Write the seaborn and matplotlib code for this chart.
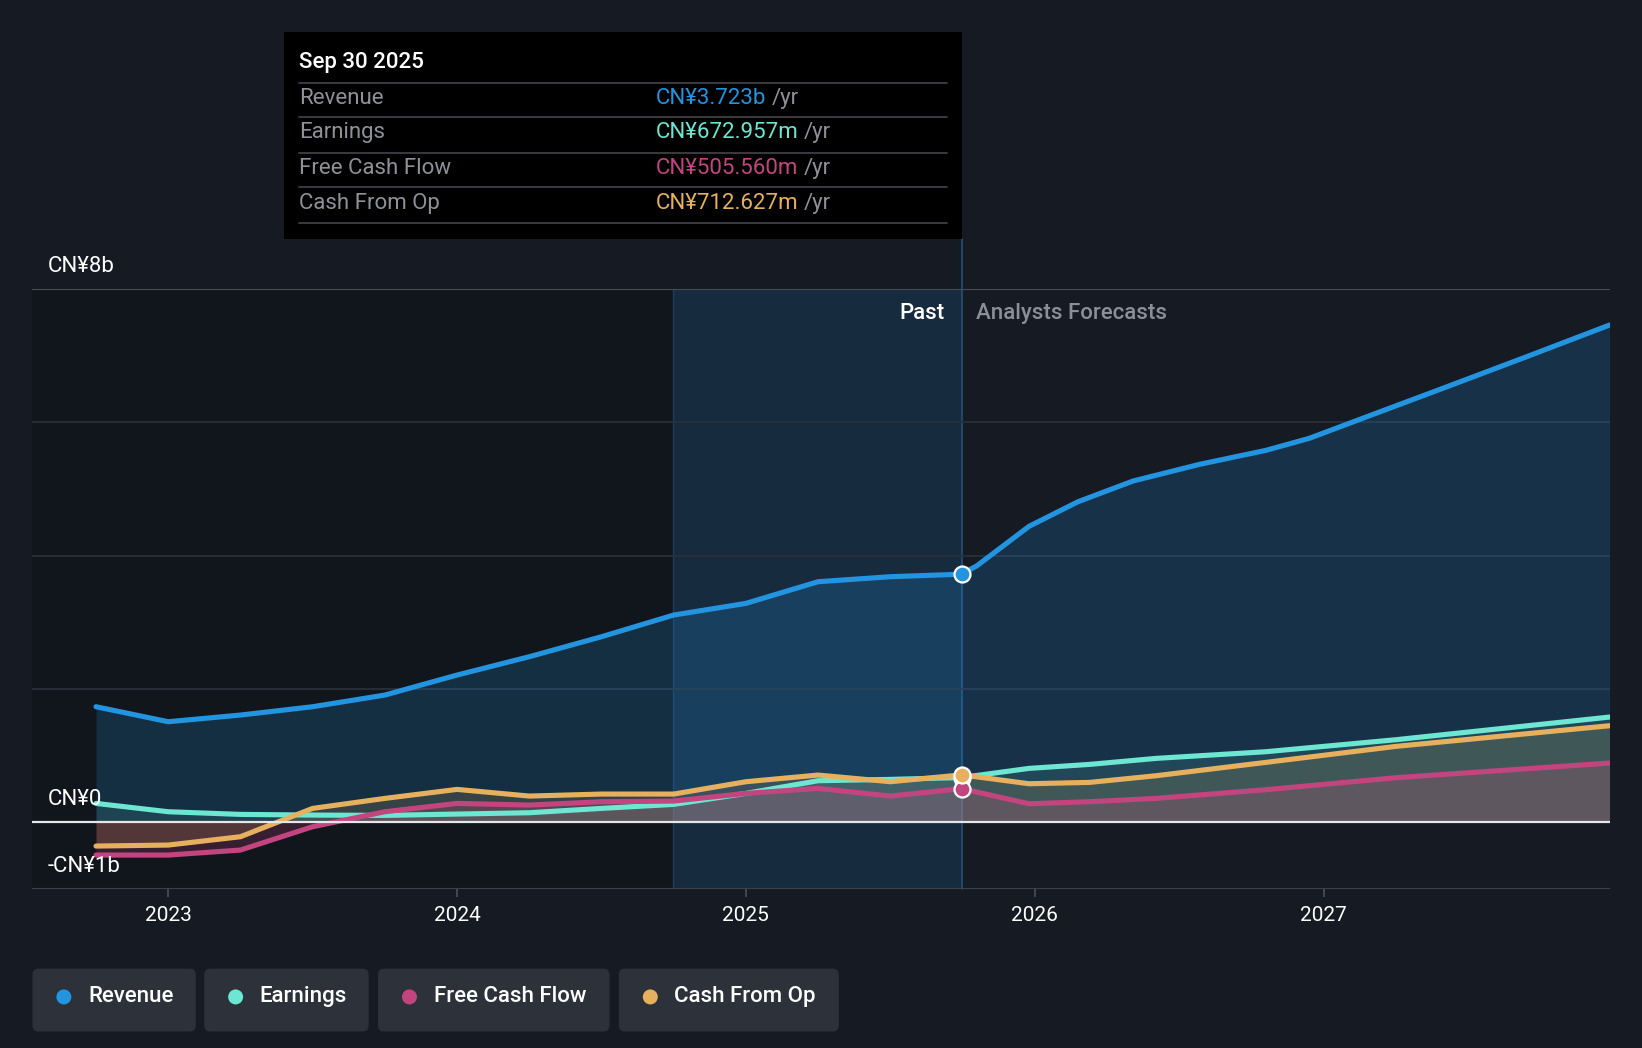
import numpy as np
import pandas as pd
import matplotlib
matplotlib.use("Agg")
import matplotlib.pyplot as plt
import seaborn as sns
from matplotlib.patches import FancyBboxPatch, Rectangle, Circle
from matplotlib.lines import Line2D

# ---- data (CN¥ billions) ----
past_x = [2022.75, 2023.0, 2023.25, 2023.5, 2023.75, 2024.0, 2024.25,
          2024.5, 2024.75, 2025.0, 2025.25, 2025.5, 2025.747]
revenue_past = [1.735, 1.51, 1.61, 1.735, 1.91, 2.21, 2.485, 2.785, 3.11, 3.285, 3.61, 3.685, 3.723]
earnings_past = [0.285, 0.16, 0.12, 0.11, 0.105, 0.125, 0.145, 0.21, 0.27, 0.435, 0.625, 0.645, 0.673]
fcf_past = [-0.49, -0.49, -0.415, -0.065, 0.16, 0.285, 0.26, 0.31, 0.32, 0.435, 0.51, 0.395, 0.506]
cfo_past = [-0.355, -0.34, -0.215, 0.21, 0.36, 0.495, 0.395, 0.425, 0.425, 0.61, 0.71, 0.61, 0.713]

rev_fc_x = [2025.80, 2025.98, 2026.15, 2026.34, 2026.57, 2026.80, 2026.95,
            2027.19, 2027.40, 2027.70, 2027.99]
revenue_fc = [3.85, 4.44, 4.81, 5.12, 5.37, 5.58, 5.76, 6.15, 6.49, 6.98, 7.46]

other_fc_x = [2025.98, 2026.19, 2026.42, 2026.80, 2027.25, 2027.99]
earnings_fc = [0.81, 0.87, 0.96, 1.06, 1.24, 1.58]
fcf_fc = [0.28, 0.31, 0.36, 0.49, 0.67, 0.89]
cfo_fc = [0.58, 0.60, 0.70, 0.90, 1.14, 1.45]

names = ["Revenue", "Earnings", "Free Cash Flow", "Cash From Op"]
colors = ["#2394df", "#6de6d2", "#c2457f", "#e6b05e"]
tip_values = ["CN¥3.723b", "CN¥672.957m", "CN¥505.560m", "CN¥712.627m"]
year_ticks = [2023, 2024, 2025, 2026, 2027]
y_ticks = [8, 0, -1]
y_tick_labels = ["CN¥8b", "CN¥0", "-CN¥1b"]
past_end = 2025.747
band_start = 2024.746

series = {
    "Revenue": (past_x + rev_fc_x, revenue_past + revenue_fc),
    "Earnings": (past_x + other_fc_x, earnings_past + earnings_fc),
    "Free Cash Flow": (past_x + other_fc_x, fcf_past + fcf_fc),
    "Cash From Op": (past_x + other_fc_x, cfo_past + cfo_fc),
}

BG = "#151a23"
sns.set_theme(style="dark")
plt.rcParams["font.family"] = ["Roboto", "DejaVu Sans"]
FS = 16

W, H = 16.42, 10.48
fig = plt.figure(figsize=(W, H), dpi=100, facecolor=BG)
S = 1642 / 1568  # reference layout was measured on a 1568 wide view


def fx(x):
    return x * S / 1642


def fy(y):
    return 1 - y * S / 1048


ax = fig.add_axes([fx(31), fy(849), fx(1537) - fx(31), fy(276) - fy(849)])
ax.set_facecolor(BG)
ax.set_xlim(2022.53, 2027.99)
ax.set_ylim(-1, 8)

# background bands
ax.axvspan(2022.53, band_start, color="#0b0e13", alpha=0.4, lw=0, zorder=0)
ax.axvspan(band_start, past_end, color="#1f6aa6", alpha=0.22, lw=0, zorder=0)
ax.axvline(band_start, color="#1f3d58", lw=1, zorder=1)
ax.axvline(past_end, ymin=0, ymax=(849 - 228) / (849 - 276), color="#24507a",
           lw=1.2, zorder=1, clip_on=False)

# grid
for g in [2, 4, 6]:
    ax.axhline(g, color="#2a3039", lw=1.3, zorder=1)
ax.axhline(8, color="#474d56", lw=1.5, zorder=1)
ax.axhline(-1, color="#3b414a", lw=1.5, zorder=1)

# fills then lines
fill_alpha = [0.2, 0.12, 0.22, 0.16]
for name, c, a in zip(names, colors, fill_alpha):
    xs, ys = series[name]
    ax.fill_between(xs, ys, 0, color=c, alpha=a, lw=0, zorder=2)

for name in names:
    xs, ys = series[name]
    df = pd.DataFrame({"x": xs, "y": ys})
    sns.lineplot(data=df, x="x", y="y", ax=ax, color=colors[names.index(name)],
                 lw=3.7, sort=False, solid_capstyle="round", solid_joinstyle="round",
                 zorder=4)

ax.axhline(0, color="#e6e6e6", lw=1.6, zorder=5)

# markers at Sep 30 2025
for name, val in [("Revenue", revenue_past[-1]), ("Earnings", earnings_past[-1]),
                  ("Free Cash Flow", fcf_past[-1]), ("Cash From Op", cfo_past[-1])]:
    ax.plot([past_end], [val], "o", ms=11.5, mfc=colors[names.index(name)],
            mec="white", mew=1.6, zorder=6)

# axes cosmetics
sns.despine(ax=ax, left=True, bottom=True, right=True, top=True)
ax.grid(False)
ax.set_xlabel("")
ax.set_ylabel("")
ax.set_yticks([])
ax.set_xticks(year_ticks)
ax.set_xticklabels([str(y) for y in year_ticks])
ax.tick_params(axis="x", colors="#4a5058", length=6, width=1.2, pad=6,
               labelcolor="white", labelsize=15, direction="out", bottom=True)

for v, lab in zip(y_ticks, y_tick_labels):
    ax.annotate(lab, xy=(0.0099, v), xycoords=("axes fraction", "data"),
                xytext=(0, 16.5), textcoords="offset points", ha="left", va="center",
                color="white", fontsize=FS, zorder=7)

ax.annotate("Past", xy=(past_end, 1), xycoords=("data", "axes fraction"),
            xytext=(-12.5, -17.5), textcoords="offset points", ha="right", va="center",
            color="white", fontsize=FS, fontweight="medium")
ax.annotate("Analysts Forecasts", xy=(past_end, 1), xycoords=("data", "axes fraction"),
            xytext=(10.5, -17.5), textcoords="offset points", ha="left", va="center",
            color="#8b9098", fontsize=FS, fontweight="medium")

# tooltip
fig.patches.append(Rectangle((fx(271), fy(228)), fx(919) - fx(271), fy(31) - fy(228),
                             transform=fig.transFigure, facecolor="black", edgecolor="none",
                             zorder=8))
fig.text(fx(286), fy(60), "Sep 30 2025", color="white", fontsize=FS,
         fontweight="medium", va="center", ha="left", zorder=9)
for yy in [79, 112, 146, 179, 213]:
    fig.add_artist(Line2D([fx(286), fx(904)], [fy(yy), fy(yy)], color="#3d4045",
                          lw=1.3, transform=fig.transFigure, zorder=9))
renderer = fig.canvas.get_renderer()
for yy, name, c, val in zip([94, 127, 161, 194], names, colors, tip_values):
    fig.text(fx(286), fy(yy), name, color="#8e9298", fontsize=FS, va="center",
             ha="left", zorder=9)
    t = fig.text(fx(626), fy(yy), val, color=c, fontsize=FS, va="center", ha="left",
                 zorder=9)
    bb = t.get_window_extent(renderer=renderer)
    fig.text(bb.x1 / (W * 100) + 0.0035, fy(yy), "/yr", color="#8e9298", fontsize=FS,
             va="center", ha="left", zorder=9)

# legend chips
chips = [(31, 187), (195, 352), (361, 582), (591, 801)]
for (x0, x1), name, c in zip(chips, names, colors):
    box = FancyBboxPatch((x0 * S / 100, H - 985 * S / 100), (x1 - x0) * S / 100,
                         60 * S / 100, boxstyle="round,pad=0,rounding_size=0.06",
                         transform=fig.dpi_scale_trans, facecolor="#2c313a",
                         edgecolor="none", zorder=8)
    fig.patches.append(box)
    fig.patches.append(Circle(((x0 + 30) * S / 100, H - 952 * S / 100), 0.075,
                              transform=fig.dpi_scale_trans, facecolor=c,
                              edgecolor="none", zorder=9))
    fig.text(fx(x0 + 53), fy(952), name, color="white", fontsize=FS,
             fontweight="medium", va="center", ha="left", zorder=9)

fig.savefig("out.png", dpi=100, facecolor=BG)
